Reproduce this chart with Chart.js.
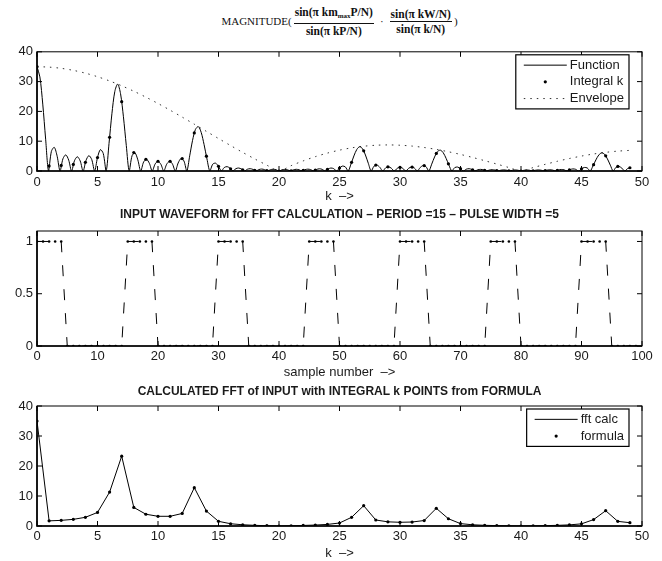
<!DOCTYPE html>
<html>
<head>
<meta charset="utf-8">
<script src="https://cdn.jsdelivr.net/npm/chart.js@4.4.1/dist/chart.umd.min.js"></script>
<style>
  html, body { margin: 0; padding: 0; background: #fff; }
  #page { position: relative; width: 662px; height: 561px; overflow: hidden; background: #fff; }
  canvas { position: absolute; left: 0; }
  #eq {
    position: absolute; top: 6px; left: 0; width: 679px; height: 30px;
    display: flex; justify-content: center; align-items: center;
    font-family: "Liberation Serif", "Times New Roman", serif; font-size: 11px; color: #111;
  }
  #eq .fr { display: inline-flex; flex-direction: column; text-align: center; font-weight: bold; font-size: 11.5px; line-height: 14px; margin: 0 2px; }
  #eq .nu { border-bottom: 1px solid #111; padding: 0 1px; }
  #eq .dot { margin: 0 4px; }
  #eq sub { font-size: 7px; vertical-align: -2px; }
</style>
</head>
<body>
<div id="page">
  <div id="eq">
    <span>MAGNITUDE(</span><span class="fr"><span class="nu">sin(π km<sub>max</sub>P/N)</span><span>sin(π kP/N)</span></span><span class="dot">·</span><span class="fr"><span class="nu">sin(π kW/N)</span><span>sin(π k/N)</span></span><span>)</span>
  </div>
  <canvas id="magChart" width="662" height="170" style="top:40px"></canvas>
  <canvas id="inputChart" width="662" height="182" style="top:200px"></canvas>
  <canvas id="fftChart" width="662" height="183" style="top:378px"></canvas>
</div>
<script>
// |function| sampled every quarter side-lobe, k = j * fnStep
const fnStep = 1 / 4.2
const fnValues = [
  35, 31.57, 22.45, 10.68, 0, 6.604, 7.947, 4.941, 0, 4.098, 5.421, 3.642, 0, 3.424, 4.779, 3.378,
  0, 3.507, 5.151, 3.842, 0, 4.520, 7.173, 5.879, 0, 9.264, 19.20, 26.64, 29.16, 25.94, 18.19, 8.532,
  0, 5.132, 6.090, 3.730, 0, 3.002, 3.913, 2.587, 0, 2.354, 3.236, 2.249, 0, 2.253, 3.253, 2.382,
  0, 2.694, 4.194, 3.369, 0, 5.080, 10.30, 13.96, 14.90, 12.93, 8.833, 4.033, 0, 2.287, 2.629, 1.558,
  0, 1.167, 1.461, 0.926, 0, 0.768, 1.001, 0.657, 0, 0.578, 0.773, 0.519, 0, 0.477, 0.652, 0.445,
  0, 0.426, 0.596, 0.419, 0, 0.384, 0.546, 0.390, 0, 0.397, 0.567, 0.408, 0, 0.429, 0.623, 0.457,
  0, 0.500, 0.744, 0.559, 0, 0.648, 0.998, 0.779, 0, 1.000, 1.646, 1.399, 0, 2.365, 5.054, 7.220,
  8.158, 7.455, 5.368, 2.581, 0, 1.632, 1.982, 1.240, 0, 1.041, 1.387, 0.933, 0, 0.882, 1.236, 0.872,
  0, 0.904, 1.328, 0.987, 0, 1.149, 1.817, 1.480, 0, 2.291, 4.711, 6.471, 7.000, 6.134, 4.245, 1.963,
  0, 1.137, 1.322, 0.794, 0, 0.605, 0.767, 0.492, 0, 0.415, 0.546, 0.362, 0, 0.324, 0.438, 0.297,
  0, 0.277, 0.381, 0.263, 0, 0.254, 0.356, 0.250, 0, 0.245, 0.349, 0.249, 0, 0.256, 0.369, 0.267,
  0, 0.284, 0.416, 0.307, 0, 0.340, 0.510, 0.385, 0, 0.452, 0.701, 0.551, 0, 0.716, 1.186, 1.015,
  0, 1.736, 3.733, 5.365, 6.096, 5.605, 4.059, 1.963, 0, 1.256, 1.534, 0.965, 0, 0.820, 1.097
]

// values at integral k = 0..49
const integralK = [
  35, 1.716, 1.880, 2.217, 2.898, 4.520, 11.30, 23.27, 6.188, 3.924,
  3.236, 3.232, 4.180, 12.78, 4.974, 1.558, 0.754, 0.410, 0.220, 0.096,
  0, 0.088, 0.185, 0.316, 0.531, 1.000, 2.906, 6.766, 1.997, 1.386,
  1.236, 1.324, 1.823, 5.896, 2.417, 0.794, 0.402, 0.227, 0.127, 0.057,
  0, 0.056, 0.122, 0.214, 0.370, 0.716, 2.135, 5.098, 1.542, 1.095
]
const envelope = [
  35, 34.86, 34.45, 33.77, 32.83, 31.64, 30.22, 28.59, 26.77, 24.78,
  22.65, 20.41, 18.08, 15.70, 13.30, 10.90, 8.54, 6.24, 4.04, 1.95,
  0, 1.79, 3.39, 4.81, 6.01, 7.00, 7.77, 8.31, 8.64, 8.75,
  8.65, 8.36, 7.88, 7.25, 6.46, 5.56, 4.55, 3.46, 2.33, 1.16,
  0, 1.14, 2.23, 3.26, 4.19, 5.01, 5.71, 6.26, 6.67, 6.92
]

// input pulse train, samples 0..99
const waveform = [
  1,1,1,1,1,0,0,0,0,0,0,0,0,0,0,
  1,1,1,1,1,0,0,0,0,0,0,0,0,0,0,
  1,1,1,1,1,0,0,0,0,0,0,0,0,0,0,
  1,1,1,1,1,0,0,0,0,0,0,0,0,0,0,
  1,1,1,1,1,0,0,0,0,0,0,0,0,0,0,
  1,1,1,1,1,0,0,0,0,0,0,0,0,0,0,
  1,1,1,1,1,0,0,0,0,0
]

// fft of the input, k = 0..49
const fftCalc = [
  35, 1.716, 1.880, 2.217, 2.898, 4.520, 11.30, 23.27, 6.188, 3.924,
  3.236, 3.232, 4.180, 12.78, 4.974, 1.558, 0.754, 0.410, 0.220, 0.096,
  0, 0.088, 0.185, 0.316, 0.531, 1.000, 2.906, 6.766, 1.997, 1.386,
  1.236, 1.324, 1.823, 5.896, 2.417, 0.794, 0.402, 0.227, 0.127, 0.057,
  0, 0.056, 0.122, 0.214, 0.370, 0.716, 2.135, 5.098, 1.542, 1.095
]
const formulaPts = integralK

const kTicks = [0, 5, 10, 15, 20, 25, 30, 35, 40, 45, 50]
const magTicks = [0, 10, 20, 30, 40]
const sampleTicks = [0, 10, 20, 30, 40, 50, 60, 70, 80, 90, 100]
const levelTicks = [0, 0.5, 1]

const font = { family: '"Liberation Sans", Arial, Helvetica, sans-serif', size: 13 }
const ink = '#1a1a1a'

function pts(values, step) {
  return values.map((v, i) => ({ x: i * step, y: v }))
}

function axes(o) {
  return {
    x: {
      type: 'linear', min: o.xMin, max: o.xMax,
      grid: { display: false, drawTicks: false }, border: { display: false },
      afterBuildTicks: s => { s.ticks = o.xTicks.map(v => ({ value: v })) },
      afterFit: s => { s.height = o.xHeight },
      ticks: { font, color: ink, padding: o.xPad, maxRotation: 0, autoSkip: false, callback: v => String(v) },
      title: { display: true, text: o.xTitle, font, color: ink, padding: { top: 0, bottom: o.titlePad } }
    },
    y: {
      type: 'linear', min: o.yMin, max: o.yMax,
      grid: { display: false, drawTicks: false }, border: { display: false },
      afterBuildTicks: s => { s.ticks = o.yTicks.map(v => ({ value: v })) },
      afterFit: s => { s.width = 37 },
      ticks: { font, color: ink, padding: 4, autoSkip: false, callback: v => String(v) }
    }
  }
}

// frame with inward ticks on all four sides, subplot title and boxed legend
const decor = {
  id: 'decor',
  defaults: { title: '', titleY: 0, legend: false },
  afterDraw(chart, args, opts) {
    const ctx = chart.ctx
    const a = chart.chartArea
    const xs = chart.scales.x, ys = chart.scales.y
    ctx.save()

    if (opts.title) {
      ctx.font = 'bold 12px "Liberation Sans", Arial, sans-serif'
      ctx.fillStyle = ink
      ctx.textAlign = 'center'
      ctx.textBaseline = 'middle'
      ctx.fillText(opts.title, (a.left + a.right) / 2, opts.titleY)
    }

    ctx.strokeStyle = '#000'
    ctx.lineWidth = 1
    ctx.strokeRect(a.left, a.top, a.right - a.left, a.bottom - a.top)
    ctx.lineWidth = 1.6
    ctx.beginPath()
    ctx.moveTo(a.left, a.top)
    ctx.lineTo(a.left, a.bottom)
    ctx.lineTo(a.right, a.bottom)
    ctx.stroke()

    const len = 5
    ctx.lineWidth = 1
    ctx.beginPath()
    xs.ticks.forEach(t => {
      const px = xs.getPixelForValue(t.value)
      ctx.moveTo(px, a.bottom); ctx.lineTo(px, a.bottom - len)
      ctx.moveTo(px, a.top); ctx.lineTo(px, a.top + len)
    })
    ys.ticks.forEach(t => {
      const py = ys.getPixelForValue(t.value)
      ctx.moveTo(a.left, py); ctx.lineTo(a.left + len, py)
      ctx.moveTo(a.right, py); ctx.lineTo(a.right - len, py)
    })
    ctx.stroke()

    if (opts.legend) {
      const items = chart.data.datasets
      ctx.font = '13px "Liberation Sans", Arial, sans-serif'
      const textW = Math.max(...items.map(d => ctx.measureText(d.label).width))
      const padL = 8, sample = 43, gap = 3, padR = 5, rowH = 16.7
      const right = a.right - 13, top = a.top + 3
      const w = padL + sample + gap + textW + padR
      const h = items.length * rowH + 4
      const left = right - w
      ctx.fillStyle = '#fff'
      ctx.fillRect(left, top, w, h)
      ctx.strokeStyle = '#000'
      ctx.lineWidth = 1.2
      ctx.strokeRect(left, top, w, h)
      items.forEach((d, i) => {
        const cy = top + 2 + rowH * (i + 0.5)
        const sx = left + padL
        if (d.showLine === false) {
          ctx.fillStyle = '#000'
          ctx.beginPath()
          ctx.arc(sx + sample / 2, cy, d.pointRadius, 0, Math.PI * 2)
          ctx.fill()
        } else {
          ctx.strokeStyle = d.borderColor
          ctx.lineWidth = d.borderWidth
          ctx.setLineDash(d.borderDash || [])
          ctx.beginPath()
          ctx.moveTo(sx, cy); ctx.lineTo(sx + sample, cy)
          ctx.stroke()
          ctx.setLineDash([])
        }
        ctx.fillStyle = ink
        ctx.textAlign = 'left'
        ctx.textBaseline = 'middle'
        ctx.fillText(d.label, sx + sample + gap, cy)
      })
    }
    ctx.restore()
  }
}
Chart.register(decor)

function baseOptions(padTop, scales, decorOpts) {
  return {
    responsive: false,
    animation: false,
    layout: { padding: { top: padTop, right: 20, left: 0, bottom: 0 } },
    scales: scales,
    plugins: { legend: { display: false }, tooltip: { enabled: false }, decor: decorOpts }
  }
}

new Chart(document.getElementById('magChart'), {
  type: 'line',
  data: {
    datasets: [
      { label: 'Function', data: pts(fnValues, fnStep), borderColor: '#000', borderWidth: 1, pointRadius: 0, tension: 0.3 },
      { label: 'Integral k', data: pts(integralK, 1), showLine: false, pointRadius: 1.6, pointBackgroundColor: '#000', pointBorderWidth: 0 },
      { label: 'Envelope', data: pts(envelope, 1), borderColor: '#333', borderWidth: 1, borderDash: [1.5, 5], pointRadius: 0, tension: 0.3 }
    ]
  },
  options: baseOptions(10,
    axes({ xMin: 0, xMax: 50, xTicks: kTicks, yMin: 0, yMax: 40, yTicks: magTicks, xTitle: 'k  –>', xHeight: 39, xPad: 4, titlePad: 6 }),
    { legend: true })
})

new Chart(document.getElementById('inputChart'), {
  type: 'line',
  data: {
    datasets: [
      { label: 'input', data: pts(waveform, 1), borderColor: '#000', borderWidth: 1, borderDash: [11, 13],
        pointRadius: 1.3, pointBackgroundColor: '#000', pointBorderWidth: 0, tension: 0 }
    ]
  },
  options: baseOptions(31,
    axes({ xMin: 0, xMax: 100, xTicks: sampleTicks, yMin: 0, yMax: 1.1, yTicks: levelTicks, xTitle: 'sample number  –>', xHeight: 36, xPad: 3, titlePad: 2 }),
    { title: 'INPUT WAVEFORM for FFT CALCULATION – PERIOD =15 – PULSE WIDTH =5', titleY: 15 })
})

new Chart(document.getElementById('fftChart'), {
  type: 'line',
  data: {
    datasets: [
      { label: 'fft calc', data: pts(fftCalc, 1), borderColor: '#000', borderWidth: 1, pointRadius: 0, tension: 0 },
      { label: 'formula', data: pts(formulaPts, 1), showLine: false, pointRadius: 1.6, pointBackgroundColor: '#000', pointBorderWidth: 0 }
    ]
  },
  options: baseOptions(28,
    axes({ xMin: 0, xMax: 50, xTicks: kTicks, yMin: 0, yMax: 40, yTicks: magTicks, xTitle: 'k  –>', xHeight: 35, xPad: 3, titlePad: 0 }),
    { title: 'CALCULATED FFT of INPUT with INTEGRAL k POINTS from FORMULA', titleY: 14, legend: true })
})
</script>
</body>
</html>
